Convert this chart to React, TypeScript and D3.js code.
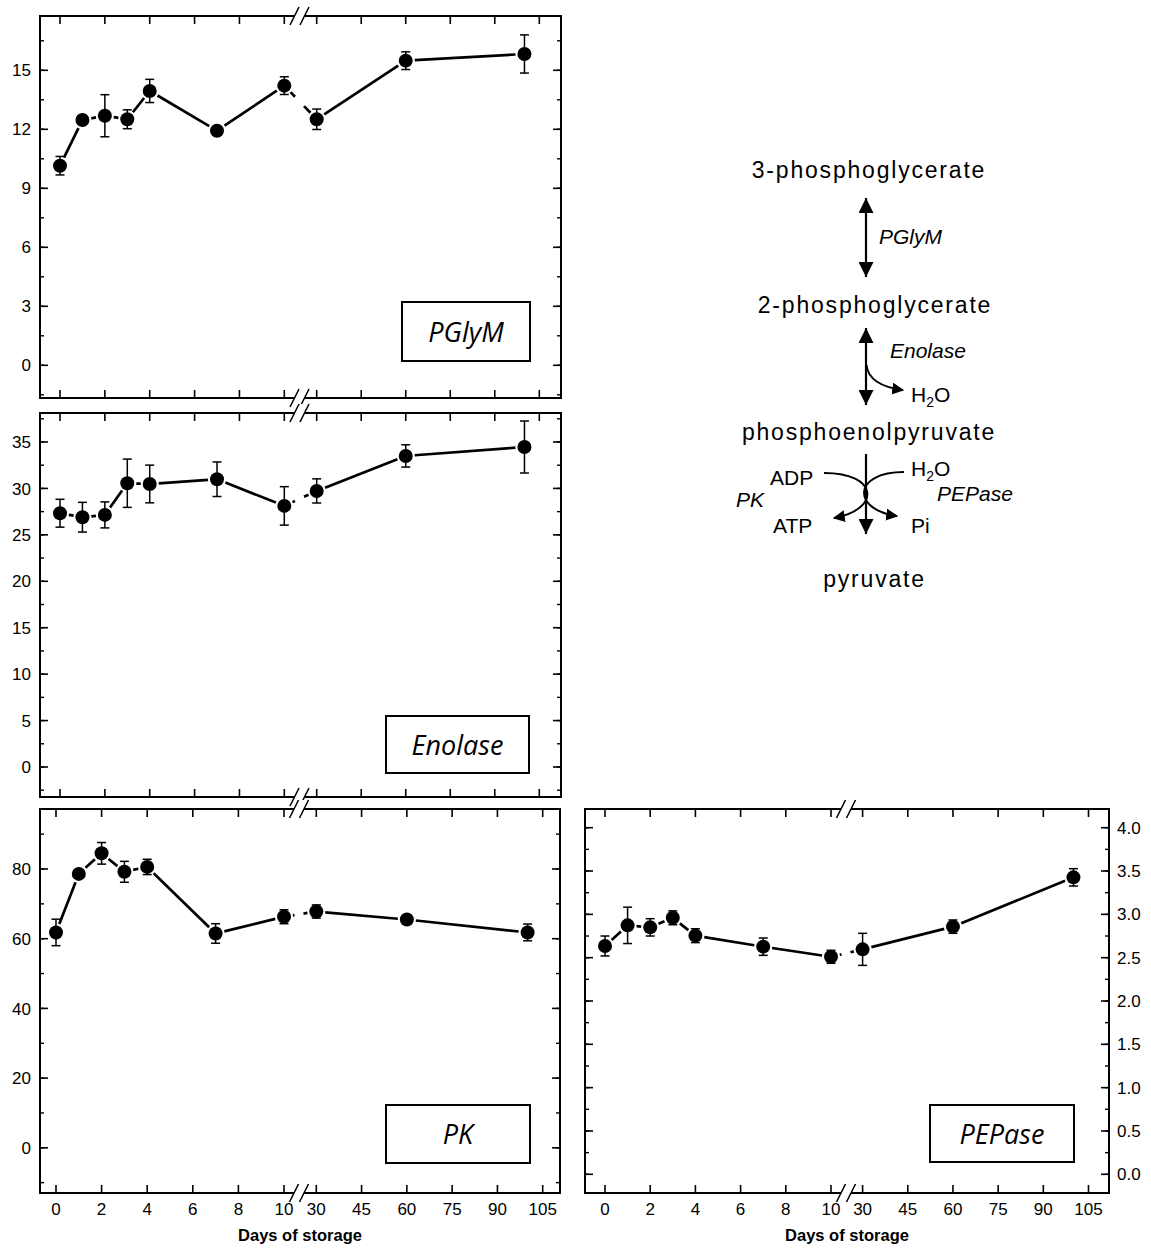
import React from 'react';
import * as d3 from 'd3';

// sampling days (x axis has a break between 10 and 30)
const days = [0, 1, 2, 3, 4, 7, 10, 30, 60, 100];
const xTicksEarly = [0, 2, 4, 6, 8, 10];
const xTicksLate = [30, 45, 60, 75, 90, 105];

const pglymMean = [10.15, 12.47, 12.69, 12.51, 13.95, 11.93, 14.22, 12.51, 15.49, 15.83];
const pglymErr = [0.47, 0.1, 1.07, 0.48, 0.59, 0.2, 0.45, 0.52, 0.45, 0.97];
const enolaseMean = [27.33, 26.9, 27.15, 30.56, 30.48, 30.99, 28.12, 29.73, 33.5, 34.46];
const enolaseErr = [1.5, 1.6, 1.4, 2.6, 2.03, 1.86, 2.07, 1.3, 1.2, 2.8];
const pkMean = [61.8, 78.6, 84.5, 79.2, 80.6, 61.5, 66.3, 67.8, 65.5, 61.8];
const pkErr = [3.8, 0.5, 3.1, 3.0, 2.2, 2.8, 2.0, 1.9, 1.0, 2.4];
const pepaseMean = [2.635, 2.873, 2.85, 2.96, 2.754, 2.627, 2.51, 2.596, 2.858, 3.427];
const pepaseErr = [0.115, 0.21, 0.1, 0.08, 0.08, 0.1, 0.075, 0.185, 0.077, 0.1];

const pglymTicks = [0, 3, 6, 9, 12, 15];
const enolaseTicks = [0, 5, 10, 15, 20, 25, 30, 35];
const pkTicks = [0, 20, 40, 60, 80];
const pepaseTicks = [0, 0.5, 1, 1.5, 2, 2.5, 3, 3.5, 4];

const AX = "'Liberation Sans', Arial, sans-serif";

type Spec = {
  name: string;
  x0: number; x1: number; y0: number; y1: number;
  early: [number, number]; late: [number, number]; brk: number;
  yRef: [number, number]; yPix: [number, number];
  ticks: number[]; minor: number; fmt: (v: number) => string;
  side: 'left' | 'right'; xLabels: boolean;
  mean: number[]; err: number[];
  box: [number, number, number, number];
};

const panels: Spec[] = [
  { name: 'PGlyM', x0: 40, x1: 561, y0: 16, y1: 398, early: [60, 284.3], late: [316.7, 539.3], brk: 299.5,
    yRef: [0, 15], yPix: [365.3, 70.3], ticks: pglymTicks, minor: 1.5, fmt: d3.format('d'),
    side: 'left', xLabels: false, mean: pglymMean, err: pglymErr, box: [402, 302, 128, 59] },
  { name: 'Enolase', x0: 40, x1: 561, y0: 413, y1: 797, early: [60, 284.3], late: [316.7, 539.3], brk: 299.5,
    yRef: [0, 35], yPix: [767, 442], ticks: enolaseTicks, minor: 2.5, fmt: d3.format('d'),
    side: 'left', xLabels: false, mean: enolaseMean, err: enolaseErr, box: [386, 716, 143, 57] },
  { name: 'PK', x0: 40, x1: 560, y0: 809, y1: 1193, early: [56, 284], late: [316.3, 542.7], brk: 299,
    yRef: [0, 80], yPix: [1147.8, 869], ticks: pkTicks, minor: 10, fmt: d3.format('d'),
    side: 'left', xLabels: true, mean: pkMean, err: pkErr, box: [386, 1105, 144, 58] },
  { name: 'PEPase', x0: 585, x1: 1109, y0: 809, y1: 1193, early: [605, 831], late: [862.6, 1088.5], brk: 846,
    yRef: [0, 4], yPix: [1174.3, 827.7], ticks: pepaseTicks, minor: 0.25, fmt: d3.format('.1f'),
    side: 'right', xLabels: true, mean: pepaseMean, err: pepaseErr, box: [930, 1105, 144, 57] },
];

function BreakMark({ x, y }: { x: number; y: number }) {
  const dx = 4.5, dy = 9, s = 5;
  const a = [x - s - dx, y + dy], b = [x - s + dx, y - dy];
  const c = [x + s - dx, y + dy], d = [x + s + dx, y - dy];
  return (
    <g>
      <polygon points={`${a} ${b} ${d} ${c}`} fill="#fff" />
      <line x1={a[0]} y1={a[1]} x2={b[0]} y2={b[1]} stroke="#000" strokeWidth={1.5} />
      <line x1={c[0]} y1={c[1]} x2={d[0]} y2={d[1]} stroke="#000" strokeWidth={1.5} />
    </g>
  );
}

function Panel({ p }: { p: Spec }) {
  const xe = d3.scaleLinear().domain([0, 10]).range(p.early);
  const xl = d3.scaleLinear().domain([30, 105]).range(p.late);
  const x = (d: number) => (d <= 10 ? xe(d) : xl(d));
  const y = d3.scaleLinear().domain(p.yRef).range(p.yPix);
  const lo = y.invert(p.y1), hi = y.invert(p.y0);
  const minors = d3.range(Math.ceil(lo / p.minor), Math.floor(hi / p.minor) + 1).map(k => k * p.minor);
  const xt = [...xTicksEarly.map(xe), ...xTicksLate.map(xl)];
  const xtLab = [...xTicksEarly, ...xTicksLate];

  const pts = days.map((d, i) => [x(d), y(p.mean[i])]);
  const gap = 9, bgap = 4.5;
  const segs: number[][] = [];
  for (let i = 0; i < pts.length - 1; i++) {
    const [ax, ay] = pts[i], [bx, by] = pts[i + 1];
    const len = Math.hypot(bx - ax, by - ay);
    if (len <= 2 * gap) continue;
    let cuts = [[gap / len, 1 - gap / len]];
    if (ax < p.brk && bx > p.brk) {
      const tb0 = (p.brk - bgap - ax) / (bx - ax), tb1 = (p.brk + bgap - ax) / (bx - ax);
      cuts = [[cuts[0][0], Math.min(cuts[0][1], tb0)], [Math.max(cuts[0][0], tb1), cuts[0][1]]].filter(c => c[1] > c[0]);
    }
    cuts.forEach(([t0, t1]) => segs.push([ax + (bx - ax) * t0, ay + (by - ay) * t0, ax + (bx - ax) * t1, ay + (by - ay) * t1]));
  }

  const [bxp, byp, bw, bh] = p.box;
  return (
    <g>
      <rect x={p.x0} y={p.y0} width={p.x1 - p.x0} height={p.y1 - p.y0} fill="none" stroke="#000" strokeWidth={2} />
      {xt.map((tx, i) => (
        <g key={'xt' + i} stroke="#000" strokeWidth={1.6}>
          <line x1={tx} x2={tx} y1={p.y0} y2={p.y0 + 8} />
          <line x1={tx} x2={tx} y1={p.y1} y2={p.y1 - 8} />
        </g>
      ))}
      {minors.map((v, i) => (
        <g key={'mn' + i} stroke="#000" strokeWidth={1.4}>
          <line x1={p.x0} x2={p.x0 + 4} y1={y(v)} y2={y(v)} />
          <line x1={p.x1} x2={p.x1 - 4} y1={y(v)} y2={y(v)} />
        </g>
      ))}
      {p.ticks.map((v, i) => (
        <g key={'yt' + i}>
          <line x1={p.x0} x2={p.x0 + 8} y1={y(v)} y2={y(v)} stroke="#000" strokeWidth={1.6} />
          <line x1={p.x1} x2={p.x1 - 8} y1={y(v)} y2={y(v)} stroke="#000" strokeWidth={1.6} />
          {p.side === 'left'
            ? <text x={p.x0 - 9} y={y(v)} dy="0.36em" textAnchor="end" fontSize={17} fontFamily={AX}>{p.fmt(v)}</text>
            : <text x={p.x1 + 8} y={y(v)} dy="0.36em" textAnchor="start" fontSize={17} fontFamily={AX}>{p.fmt(v)}</text>}
        </g>
      ))}
      {p.xLabels && xt.map((tx, i) => (
        <text key={'xl' + i} x={tx} y={p.y1 + 22} textAnchor="middle" fontSize={17} fontFamily={AX}>{xtLab[i]}</text>
      ))}
      {p.xLabels && (
        <text x={(p.x0 + p.x1) / 2} y={p.y1 + 48} textAnchor="middle" fontSize={16.5} fontWeight="bold" fontFamily={AX}>Days of storage</text>
      )}
      <BreakMark x={p.brk} y={p.y0} />
      <BreakMark x={p.brk} y={p.y1} />
      <rect x={bxp} y={byp} width={bw} height={bh} fill="#fff" stroke="#000" strokeWidth={2} />
      <text x={bxp + bw / 2} y={byp + bh / 2 + 10} textAnchor="middle" fontSize={27} fontStyle="italic" fontFamily="'Open Sans', sans-serif">{p.name}</text>
      {days.map((d, i) => {
        const cx = x(d), t = y(p.mean[i] + p.err[i]), b = y(p.mean[i] - p.err[i]);
        return (
          <g key={'eb' + i} stroke="#000" strokeWidth={1.5}>
            <line x1={cx} x2={cx} y1={t} y2={b} />
            <line x1={cx - 4.5} x2={cx + 4.5} y1={t} y2={t} />
            <line x1={cx - 4.5} x2={cx + 4.5} y1={b} y2={b} />
          </g>
        );
      })}
      {segs.map((s, i) => (
        <line key={'sg' + i} x1={s[0]} y1={s[1]} x2={s[2]} y2={s[3]} stroke="#000" strokeWidth={2.7} />
      ))}
      {pts.map((q, i) => <circle key={'pt' + i} cx={q[0]} cy={q[1]} r={7} fill="#000" />)}
    </g>
  );
}

function Pathway() {
  const big = { fontSize: 23, letterSpacing: 1.8, fontFamily: AX } as const;
  const small = { fontSize: 21, fontFamily: AX } as const;
  const ital = { fontSize: 21, fontFamily: AX, fontStyle: 'italic' } as const;
  const H2O = (x: number, yb: number) => (
    <text x={x} y={yb} {...small}>H<tspan fontSize={14} dy={5}>2</tspan><tspan dy={-5}>O</tspan></text>
  );
  return (
    <g>
      <defs>
        <marker id="headBig" viewBox="0 0 10 10" refX={10} refY={5} markerWidth={15} markerHeight={15}
          markerUnits="userSpaceOnUse" orient="auto-start-reverse">
          <path d="M0,0 L10,5 L0,10 z" fill="#000" />
        </marker>
        <marker id="headSmall" viewBox="0 0 10 10" refX={9} refY={5} markerWidth={12} markerHeight={12}
          markerUnits="userSpaceOnUse" orient="auto">
          <path d="M0,0 L10,5 L0,10 z" fill="#000" />
        </marker>
      </defs>
      <text x={869} y={178} textAnchor="middle" {...big}>3-phosphoglycerate</text>
      <line x1={866} x2={866} y1={198} y2={277} stroke="#000" strokeWidth={2.2}
        markerStart="url(#headBig)" markerEnd="url(#headBig)" />
      <text x={879} y={244} {...ital}>PGlyM</text>
      <text x={875} y={313} textAnchor="middle" {...big}>2-phosphoglycerate</text>
      <line x1={866} x2={866} y1={328} y2={405} stroke="#000" strokeWidth={2.2}
        markerStart="url(#headBig)" markerEnd="url(#headBig)" />
      <text x={890} y={358} {...ital}>Enolase</text>
      <path d="M866.5,365 C868,379 880,387 903,390" fill="none" stroke="#000" strokeWidth={2} markerEnd="url(#headSmall)" />
      {H2O(911, 402)}
      <text x={869} y={440} textAnchor="middle" {...big}>phosphoenolpyruvate</text>
      <line x1={866} x2={866} y1={454} y2={534} stroke="#000" strokeWidth={2.2} markerEnd="url(#headBig)" />
      <path d="M824,473 C880,473 880,510 834,518" fill="none" stroke="#000" strokeWidth={2} markerEnd="url(#headSmall)" />
      <path d="M904,472 C852,472 852,510 897,516" fill="none" stroke="#000" strokeWidth={2} markerEnd="url(#headSmall)" />
      <text x={770} y={485} {...small}>ADP</text>
      <text x={736} y={507} {...ital}>PK</text>
      <text x={773} y={533} {...small}>ATP</text>
      {H2O(911, 476)}
      <text x={937} y={501} {...ital}>PEPase</text>
      <text x={911} y={533} {...small}>Pi</text>
      <text x={874.5} y={587} textAnchor="middle" {...big}>pyruvate</text>
    </g>
  );
}

export default function App() {
  return (
    <div style={{ position: 'absolute', left: 0, top: 0 }}>
      <svg width={1151} height={1248} viewBox="0 0 1151 1248" style={{ display: 'block', background: '#fff' }}>
        {panels.map(p => <Panel key={p.name} p={p} />)}
        <Pathway />
      </svg>
    </div>
  );
}
